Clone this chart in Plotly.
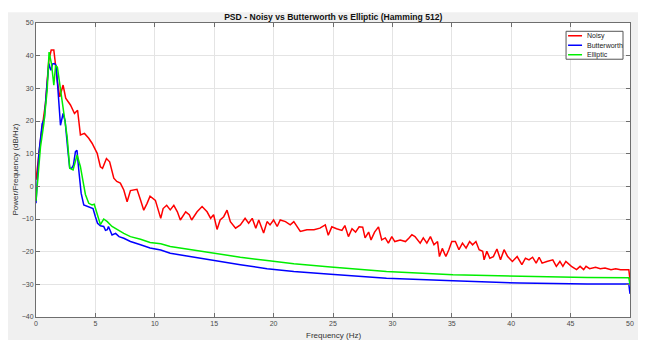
import plotly.graph_objects as go

# ---------------- data ----------------
noisy_f = [0, 0.38, 0.8, 1.08, 1.28, 1.5, 1.6, 1.78, 2.0, 2.28, 2.5, 2.9, 3.24, 3.5, 3.74, 4.08,
           4.44, 4.72, 5.15, 5.42, 5.6, 5.93, 6.2, 6.55, 6.8, 7.1, 7.39, 7.67, 7.95, 8.5, 8.8,
           9.07, 9.35, 9.6, 10.05, 10.5, 10.7, 11.0, 11.3, 11.6, 11.9, 12.15, 12.6, 12.9, 13.1,
           13.56, 13.98, 14.4, 14.7, 14.95, 15.24, 15.5, 15.8, 16.08, 16.36, 16.8, 17.2, 17.6,
           17.9, 18.2, 18.5, 18.75, 19.16, 19.45, 19.7, 20.0, 20.3, 20.56, 21.0, 21.4, 21.7,
           22.0, 22.25, 22.8, 23.4, 23.9, 24.35, 24.6, 24.9, 25.3, 25.75, 26.0, 26.3, 26.6,
           26.9, 27.2, 27.5, 27.7, 28.0, 28.2, 28.5, 28.83, 29.1, 29.4, 29.66, 29.95, 30.2,
           30.66, 31.1, 31.4, 31.64, 31.9, 32.34, 32.6, 32.9, 33.2, 33.5, 33.8, 33.96, 34.2,
           34.5, 34.75, 35.0, 35.3, 35.6, 35.9, 36.2, 36.5, 36.75, 37.03, 37.3, 37.6, 37.72,
           37.95, 38.2, 38.5, 38.8, 39.1, 39.4, 39.7, 40.1, 40.5, 40.9, 41.2, 41.5, 41.8, 42.1,
           42.35, 42.6, 43.0, 43.5, 43.8, 44.1, 44.35, 44.6, 45.07, 45.5, 45.8, 46.1, 46.3,
           46.6, 47.1, 47.5, 47.9, 48.4, 48.8, 49.2, 49.9, 50]
noisy_db = [2, 14.2, 25.5, 38.6, 41.7, 41.7, 38.6, 32.5, 27.4, 31, 27, 24.9, 22.3, 23.3, 15.7, 16.2,
            14.7, 13.2, 10.1, 6, 5.5, 8.5, 7.5, 2.5, 1.5, 1.0, -1.1, -4.7, -1.3, -0.9, -4.2,
            -7.3, -5.2, -3.0, -4.3, -9.8, -6.8, -5.8, -7.2, -5.8, -7.8, -10.3, -7.8, -8.7, -10.3,
            -7.8, -6.2, -7.8, -9.8, -8.7, -13.2, -10.3, -9.3, -7.3, -10.8, -12.8, -11.8, -9.8,
            -11.3, -9.8, -12.8, -10.3, -14.3, -10.8, -11.8, -10.3, -12.3, -10.3, -10.8, -11.8, -10.8,
            -12.3, -13.8, -13.3, -13.3, -12.8, -11.8, -15.0, -12.4, -13.0, -13.5, -12.0, -15.4, -13.0,
            -14.0, -12.4, -12.5, -15.8, -14.0, -16.4, -14.0, -12.4, -16.4, -15.8, -17.4, -15.4, -16.9,
            -16.4, -16.9, -15.8, -14.8, -15.4, -17.4, -15.8, -17.4, -15.4, -17.9, -16.9, -21.5, -19.0,
            -21.5, -19.4, -16.9, -16.9, -19.4, -17.4, -18.9, -16.9, -17.9, -16.9, -19.4, -19.9, -22.5,
            -19.9, -22.0, -21.5, -19.2, -22.5, -19.4, -21.5, -23.0, -21.5, -24.0, -22.0, -22.5, -21.7, -23.5,
            -21.7, -23.5, -23.0, -22.5, -24.5, -23.0, -24.5, -23.0, -24.5, -25.5, -24.5, -25.5, -24.5,
            -25.2, -24.8, -25.2, -25.0, -25.5, -25.2, -25.5, -25.5, -28.6]

butter_f = [0, 0.24, 0.52, 0.7, 0.9, 1.08, 1.25, 1.4, 1.56, 1.7, 1.87, 2.06, 2.28, 2.45, 2.68,
            2.84, 3.0, 3.15, 3.32, 3.45, 3.6, 3.8, 4.02, 4.3, 4.6, 4.8, 5.0, 5.18, 5.42, 5.7,
            5.85, 6.0, 6.1, 6.4, 6.7, 6.99, 7.39, 7.95, 8.8, 9.6, 10.5, 11.3, 12.7, 14.95, 17.2,
            19.45, 21.7, 24.8, 29.5, 35.1, 40.7, 46.4, 49.9, 50]
butter_db = [-5.2, 10, 19.2, 20.7, 30, 37.6, 35.5, 37.5, 37.6, 37, 28.4, 18.7, 22.3, 20, 11.1,
             5.5, 5.5, 6.5, 10.6, 11, 5, -2.1, -5.7, -6.1, -6.4, -6.8, -9.3, -11.3, -12.1, -12.3,
             -13.5, -13.3, -12.3, -14.9, -14.4, -15.4, -15.9, -16.9, -17.9, -18.9, -19.5, -20.5,
             -21.3, -22.7, -24.0, -25.2, -26.1, -26.9, -28.1, -28.9, -29.6, -29.9, -29.9, -32.9]

ellip_f = [0, 0.2, 0.38, 0.66, 0.94, 1.1, 1.3, 1.5, 1.65, 1.8, 2.06, 2.34, 2.62, 2.84, 3.12,
           3.46, 3.74, 3.96, 4.16, 4.44, 4.72, 4.9, 5.15, 5.42, 5.7, 6.0, 6.4, 6.85, 7.39, 7.95,
           8.8, 9.6, 10.5, 11.3, 12.7, 14.95, 17.2, 19.45, 21.7, 24.8, 29.5, 35.1, 40.7, 46.4,
           49.9, 50]
ellip_db = [-4.5, 5, 12.1, 19.2, 29.4, 41.1, 37.6, 31, 37, 36.5, 29.4, 23.3, 15.2, 5.5, 5,
            9.6, 6, 1.5, -2.5, -5.2, -5.7, -5.5, -8.8, -11.7, -10, -10.8, -12.3, -13.3, -14.4,
            -15.4, -16.2, -17.2, -17.6, -18.4, -19.2, -20.5, -21.7, -22.7, -23.7, -24.7, -26.1,
            -27.1, -27.6, -27.9, -28, -30.1]

series_names = ["Noisy", "Butterworth", "Elliptic"]
x_ticks = [0, 5, 10, 15, 20, 25, 30, 35, 40, 45, 50]
y_ticks = [-40, -30, -20, -10, 0, 10, 20, 30, 40, 50]

assert len(noisy_f) == len(noisy_db)
assert len(butter_f) == len(butter_db)
assert len(ellip_f) == len(ellip_db)

# ---------------- figure ----------------
# The page body has an 8px default margin, so the figure is drawn 8px in from
# the top-left corner; positions below are given in window pixels and shifted.
OFF = 8
W, H = 647 - OFF, 340 - OFF
ML, MR, MT, MB = 27.5, 17, 14.7, 22.7
pw, ph = W - ML - MR, H - MT - MB

def px_x(p):
    return (p - OFF - ML) / pw

def px_y(p):
    return (H - MB - (p - OFF)) / ph

fig = go.Figure()
colors = ["#ff0000", "#0000ff", "#00ee00"]
for name, xs, ys, c in zip(series_names, [noisy_f, butter_f, ellip_f],
                           [noisy_db, butter_db, ellip_db], colors):
    fig.add_trace(go.Scatter(x=xs, y=ys, mode="lines", name=name,
                             line=dict(color=c, width=1.5), showlegend=False))

font_family = "Liberation Sans, Arial, sans-serif"
axis_common = dict(
    showline=True, linecolor="#6e6e6e", linewidth=1, mirror="ticks",
    ticks="inside", ticklen=4, tickcolor="#6e6e6e", automargin=False,
    showgrid=True, gridcolor="#e4e4e4", gridwidth=1, zeroline=False,
    tickfont=dict(family=font_family, size=7, color="#4a4a4a"),
)
fig.update_xaxes(range=[0, 50], tickvals=x_ticks, **axis_common)
fig.update_yaxes(range=[-40, 50], tickvals=y_ticks, **axis_common)

shapes = [
    # white strips around the grey figure background
    dict(type="rect", xref="paper", yref="paper", x0=px_x(-20), x1=px_x(700),
         y0=px_y(12), y1=px_y(-20), fillcolor="white", line_width=0, layer="below"),
    dict(type="rect", xref="paper", yref="paper", x0=px_x(638), x1=px_x(700),
         y0=px_y(400), y1=px_y(-20), fillcolor="white", line_width=0, layer="below"),
    # legend box
    dict(type="rect", xref="paper", yref="paper", x0=px_x(566), x1=px_x(623),
         y0=px_y(59), y1=px_y(31), fillcolor="white",
         line=dict(color="#555", width=1), layer="above"),
]
annotations = [
    dict(xref="paper", yref="paper", x=px_x(333), y=px_y(335.5),
         text="Frequency (Hz)", showarrow=False, xanchor="center", yanchor="middle",
         font=dict(family=font_family, size=8, color="#333")),
    dict(xref="paper", yref="paper", x=px_x(14), y=px_y(170),
         text="Power/Frequency (dB/Hz)", showarrow=False, textangle=-90,
         xanchor="center", yanchor="middle",
         font=dict(family=font_family, size=8, color="#333")),
]
for i, (name, c) in enumerate(zip(series_names, colors)):
    yy = 35.5 + i * 9.5
    shapes.append(dict(type="line", xref="paper", yref="paper",
                       x0=px_x(568), x1=px_x(582), y0=px_y(yy), y1=px_y(yy),
                       line=dict(color=c, width=1.5), layer="above"))
    annotations.append(dict(xref="paper", yref="paper", x=px_x(584.5), y=px_y(yy),
                            text=name, showarrow=False, xanchor="left", yanchor="middle",
                            font=dict(family=font_family, size=7, color="#222")))

fig.update_layout(
    width=W, height=H,
    margin=dict(l=ML, r=MR, t=MT, b=MB, pad=0),
    paper_bgcolor="#f0f0f0", plot_bgcolor="white",
    title=dict(text="<b>PSD - Noisy vs Butterworth vs Elliptic (Hamming 512)</b>",
               x=px_x(333), xanchor="center", xref="paper",
               y=1 - (17 - OFF) / H, yanchor="middle",
               font=dict(family=font_family, size=8.6, color="#111")),
    showlegend=False,
    shapes=shapes,
    annotations=annotations,
)

fig.write_html("out.html")
